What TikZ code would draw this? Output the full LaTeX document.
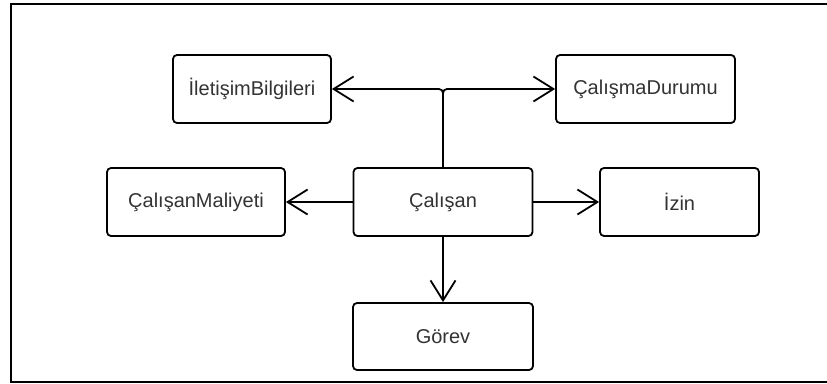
\documentclass[tikz,border=0pt]{standalone}
\usepackage{fontspec}
\setmainfont{Liberation Sans}
\usetikzlibrary{arrows.meta}
\begin{document}
\begin{tikzpicture}[x=1pt,y=-1pt,
  box/.style={draw=black, line width=1.8pt, rounded corners=4pt, fill=white,
    minimum height=68pt, inner sep=0pt, text=black!80,
    font=\fontsize{20}{24}\selectfont},
  link/.style={line width=1.8pt,
    -{Straight Barb[length=20pt,width=25pt,line width=1.8pt]}}]
\useasboundingbox (0,0) rectangle (827,383);
% outer frame, open on the right
\draw[line width=2pt] (827,4) -- (11,4) -- (11,382) -- (827,382);

% entity boxes
\node[box, minimum width=158pt] (ib) at (252,89) {İletişimBilgileri};
\node[box, minimum width=179pt] (cd) at (645.5,89) {ÇalışmaDurumu};
\node[box, minimum width=178pt] (cm) at (196,202) {ÇalışanMaliyeti};
\node[box, minimum width=179pt] (c)  at (443,202) {Çalışan};
\node[box, minimum width=159pt] (iz) at (679.5,202) {İzin};
\node[box, minimum width=180pt, minimum height=67pt] (g) at (443,336.5) {Görev};

% connectors
\draw[link, rounded corners=4pt] (c.north) |- (ib.east);
\draw[link, rounded corners=4pt] (c.north) |- (cd.west);
\draw[link] (c.west) -- (cm.east);
\draw[link] (c.east) -- (iz.west);
\draw[link] (c.south) -- (g.north);
\end{tikzpicture}
\end{document}
